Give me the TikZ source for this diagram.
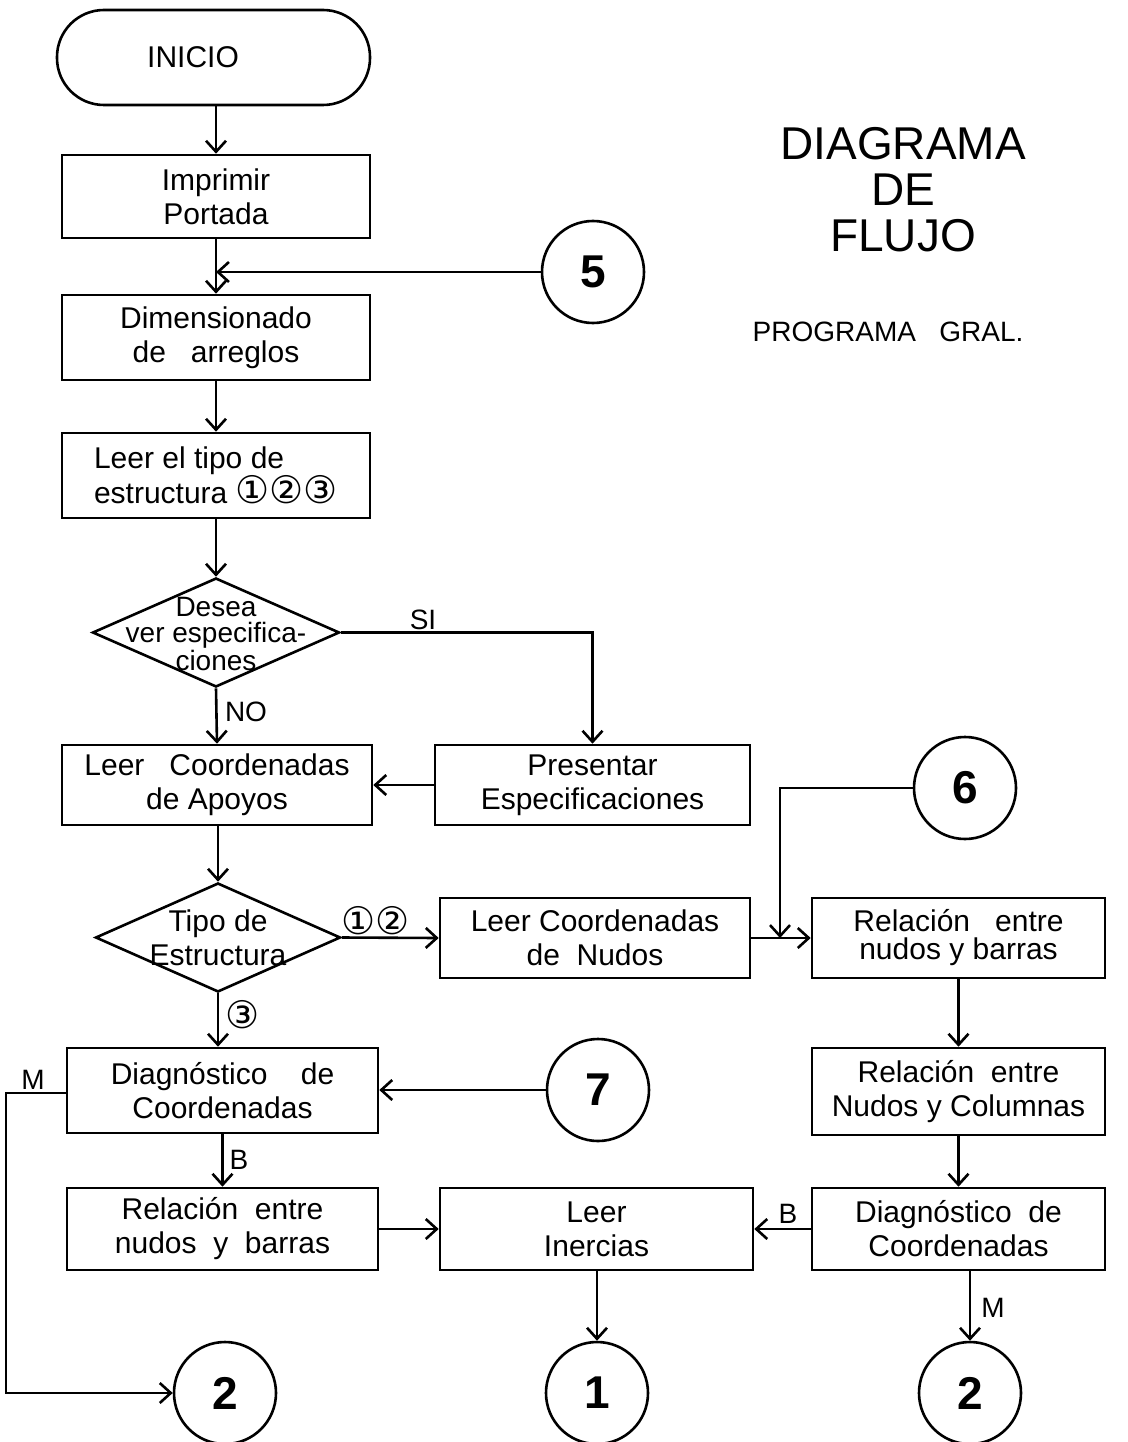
\documentclass[tikz,border=0pt]{standalone}
\usepackage{fontspec}
\setmainfont{Liberation Sans}
\newfontfamily\circfont{DejaVu Sans}
\usetikzlibrary{shapes.geometric,arrows.meta}
\begin{document}
\begin{tikzpicture}[x=1pt,y=-1pt,
  every node/.style={font=\fontsize{30}{34}\selectfont},
  stepbox/.style={draw, line width=2.6pt, inner sep=0pt, align=center},
  decide/.style={draw, diamond, line width=2.6pt, inner sep=0pt},
  conn/.style={draw, circle, line width=2.6pt, minimum size=102pt, inner sep=0pt,
    font=\fontsize{46}{46}\selectfont\bfseries},
  lbl/.style={font=\fontsize{28}{30}\selectfont, inner sep=0pt},
  arr/.style={line width=2.6pt, -{Straight Barb[length=11pt,width=20pt]}},
]
\useasboundingbox (0,0) rectangle (1127,1442);
\newcommand{\cn}[1]{{\circfont\fontsize{38}{34}\selectfont #1}}

% title block
\node[font=\fontsize{46}{46}\selectfont, align=center] (title) at (903,190) {DIAGRAMA\\DE\\FLUJO};
\node[font=\fontsize{28}{30}\selectfont] (sub) at (888,332) {PROGRAMA\ \ \ GRAL.};

% left column
\node[draw, line width=2.6pt, rounded corners=47pt, minimum width=313pt, minimum height=95pt] (ini) at (213.5,57.5) {};
\node (init) at (193,57) {INICIO};
\node[stepbox, minimum width=308pt, minimum height=83pt] (imp) at (216,196.5) {Imprimir\\Portada};
\node[conn] (c5) at (593,272) {5};
\node[stepbox, minimum width=308pt, minimum height=85pt] (dim) at (216,337.5) {Dimensionado\\de\ \ \ arreglos};
\node[stepbox, minimum width=308pt, minimum height=85pt, align=left] (tipo) at (216,475.5) {Leer el tipo de\\estructura \cn{①②③}};
\node[decide, minimum width=247pt, minimum height=109pt] (d1) at (216,632.5) {};
\node[font=\fontsize{28}{26}\selectfont, align=center] (d1t) at (216,634) {Desea\\ver especifica-\\ciones};
\node[stepbox, minimum width=310pt, minimum height=80pt] (lca) at (217,785) {Leer\ \ \ Coordenadas\\de Apoyos};
\node[stepbox, minimum width=315pt, minimum height=80pt] (pres) at (592.5,785) {Presentar\\Especificaciones};
\node[decide, minimum width=245pt, minimum height=109pt] (d2) at (218,937.5) {};
\node[align=center] (d2t) at (218,938) {Tipo de\\Estructura};
\node[stepbox, minimum width=310pt, minimum height=80pt] (lcn) at (595,938) {Leer Coordenadas\\de\ \ Nudos};
\node[conn] (c6) at (965,788) {6};
\node[stepbox, minimum width=293pt, minimum height=80pt, font=\fontsize{30}{28}\selectfont] (rnb) at (958.5,938) {Relación\ \ \ entre\\nudos\ y\ barras};
\node[stepbox, minimum width=293pt, minimum height=87pt] (rnc) at (958.5,1091.5) {Relación\ \ entre\\Nudos y Columnas};
\node[stepbox, minimum width=293pt, minimum height=82pt] (dgr) at (958.5,1229) {Diagnóstico\ \ de\\Coordenadas};

\node[stepbox, minimum width=311pt, minimum height=85pt] (dgl) at (222.5,1090.5) {Diagnóstico\ \ \ \ de\\Coordenadas};
\node[conn] (c7) at (598,1090) {7};
\node[stepbox, minimum width=311pt, minimum height=82pt] (rnbl) at (222.5,1229) {Relación\ \ entre\\nudos\ \ y\ \ barras};
\node[stepbox, minimum width=313pt, minimum height=82pt] (li) at (596.5,1229) {Leer\\Inercias};

\node[conn] (c2l) at (225,1393) {2};
\node[conn] (c1) at (597,1393) {1};
\node[conn] (c2r) at (970,1393) {2};

% junction points
\coordinate (j6) at (780,938);
\coordinate (mc) at (6,1093);

% connectors
\draw[arr] (ini.south -| imp.north) -- (imp.north);
\draw[arr] (imp.south) -- (dim.north);
\draw[arr] (c5.west) -- (c5.west -| imp.south);
\draw[arr] (dim.south) -- (tipo.north);
\draw[arr] (tipo.south) -- (d1.north);
\draw[arr] (d1.east) -| (pres.north);
\draw[arr] (d1.south) -- (lca.north);
\draw[arr] (pres.west) -- (lca.east);
\draw[arr] (lca.south -| d2.north) -- (d2.north);
\draw[arr] (d2.east) -- (lcn.west);
\draw[arr] (lcn.east) -- (rnb.west);
\draw[arr] (c6.west) -| (j6);
\draw[arr] (rnb.south) -- (rnc.north);
\draw[arr] (rnc.south) -- (dgr.north);
\draw[arr] (dgr.west) -- (li.east);
\draw[arr] (dgr.south -| c2r.north) -- (c2r.north);
\draw[arr] (d2.south) -- (d2.south |- dgl.north);
\draw[arr] (c7.west) -- (c7.west -| dgl.east);
\draw[arr] (dgl.west |- mc) -- (mc) |- (c2l.west);
\draw[arr] (dgl.south) -- (rnbl.north);
\draw[arr] (rnbl.east) -- (li.west);
\draw[arr] (li.south -| c1.north) -- (c1.north);

% branch labels
\node[lbl] (lsi) at (423,620) {SI};
\node[lbl] (lno) at (246,712) {NO};
\node[inner sep=0pt] (l12) at (376,921) {\cn{①②}};
\node[inner sep=0pt] (l3) at (243,1015) {\cn{③}};
\node[lbl] (lml) at (33,1080) {M};
\node[lbl] (lbl1) at (239,1160) {B};
\node[lbl] (lbr) at (788,1214) {B};
\node[lbl] (lmr) at (993,1308) {M};
\end{tikzpicture}
\end{document}
